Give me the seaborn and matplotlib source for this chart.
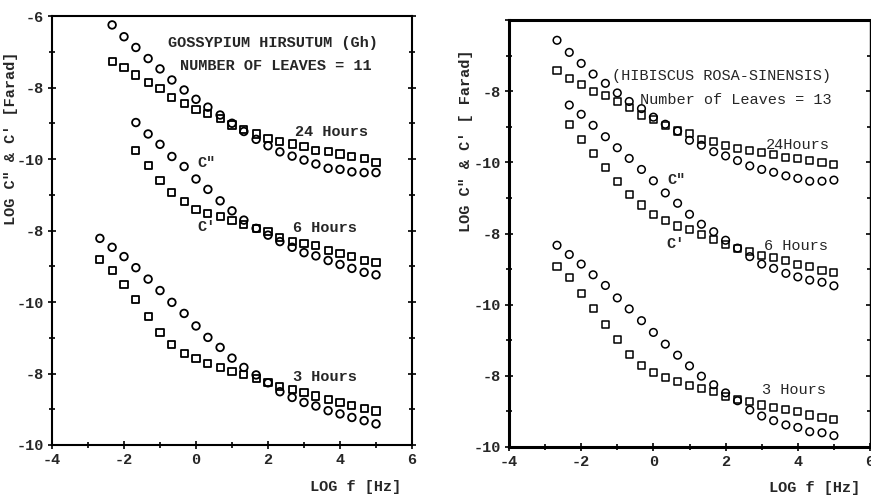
import matplotlib
matplotlib.use('Agg')
import matplotlib.pyplot as plt
import seaborn as sns
import pandas as pd
from matplotlib.ticker import MultipleLocator

# log f [Hz] grid of the measurements
LOGF = [-2.67, -2.33, -2.0, -1.67, -1.33, -1.0, -0.67, -0.33, 0.0, 0.33, 0.67, 1.0,
        1.33, 1.67, 2.0, 2.33, 2.67, 3.0, 3.33, 3.67, 4.0, 4.33, 4.67, 5.0]

# y in stacked plot units (0 = bottom frame, 2 units between labelled ticks)
# Gossypium hirsutum (left)
gh_24h_c2 = [11.75, 11.42, 11.12, 10.81, 10.52, 10.21, 9.93, 9.67, 9.45, 9.23, 9.00, 8.77,
             8.55, 8.37, 8.20, 8.08, 7.97, 7.86, 7.74, 7.71, 7.64, 7.62, 7.62]
gh_24h_c1 = [10.74, 10.55, 10.35, 10.15, 9.96, 9.71, 9.55, 9.39, 9.26, 9.14, 8.95, 8.83,
             8.70, 8.58, 8.50, 8.42, 8.34, 8.25, 8.20, 8.14, 8.06, 8.02, 7.90]
gh_6h_c2 = [9.02, 8.70, 8.41, 8.07, 7.79, 7.44, 7.15, 6.83, 6.55, 6.29, 6.06, 5.87,
            5.69, 5.53, 5.38, 5.29, 5.16, 5.05, 4.94, 4.83, 4.76]
gh_6h_c1 = [8.25, 7.81, 7.41, 7.06, 6.82, 6.60, 6.48, 6.39, 6.27, 6.18, 6.06, 5.97,
            5.81, 5.69, 5.64, 5.57, 5.45, 5.36, 5.27, 5.17, 5.11]
gh_3h_c2 = [5.78, 5.53, 5.27, 4.96, 4.64, 4.32, 3.99, 3.68, 3.33, 3.01, 2.73, 2.43,
            2.17, 1.96, 1.74, 1.49, 1.33, 1.19, 1.09, 0.96, 0.87, 0.77, 0.68, 0.59]
gh_3h_c1 = [5.20, 4.88, 4.48, 4.06, 3.59, 3.14, 2.80, 2.55, 2.41, 2.29, 2.16, 2.05,
            1.96, 1.87, 1.74, 1.63, 1.56, 1.46, 1.37, 1.28, 1.19, 1.10, 1.03, 0.95]

# Hibiscus rosa-sinensis (right)
hrs_24h_c2 = [11.43, 11.09, 10.78, 10.48, 10.22, 9.95, 9.71, 9.51, 9.27, 9.07, 8.88, 8.62,
              8.48, 8.30, 8.18, 8.05, 7.90, 7.80, 7.72, 7.62, 7.55, 7.47, 7.47, 7.50]
hrs_24h_c1 = [10.59, 10.36, 10.20, 10.00, 9.89, 9.70, 9.54, 9.33, 9.21, 9.04, 8.88, 8.81,
              8.64, 8.58, 8.48, 8.39, 8.32, 8.27, 8.22, 8.14, 8.11, 8.04, 8.00, 7.95]
hrs_6h_c2 = [9.61, 9.35, 9.04, 8.72, 8.41, 8.11, 7.80, 7.48, 7.14, 6.85, 6.54, 6.26,
             6.05, 5.81, 5.59, 5.35, 5.14, 5.02, 4.88, 4.78, 4.69, 4.63, 4.53]
hrs_6h_c1 = [9.07, 8.64, 8.25, 7.85, 7.47, 7.10, 6.80, 6.54, 6.36, 6.21, 6.10, 5.96,
             5.83, 5.70, 5.58, 5.49, 5.39, 5.33, 5.23, 5.14, 5.06, 4.97, 4.90]
hrs_3h_c2 = [5.67, 5.41, 5.14, 4.84, 4.54, 4.19, 3.88, 3.55, 3.22, 2.89, 2.58, 2.28,
             1.99, 1.75, 1.52, 1.30, 1.04, 0.87, 0.74, 0.62, 0.55, 0.43, 0.40, 0.32]
hrs_3h_c1 = [5.08, 4.76, 4.32, 3.88, 3.43, 3.01, 2.61, 2.30, 2.10, 1.96, 1.83, 1.74,
             1.65, 1.56, 1.43, 1.34, 1.27, 1.18, 1.12, 1.06, 0.99, 0.90, 0.83, 0.78]

x_ticklabels = ['-4', '-2', '0', '2', '4', '6']
gh_yticklabels = ['-10', '-8', '-10', '-8', '-10', '-8', '-6']
hrs_yticklabels = ['-10', '-8', '-10', '-8', '-10', '-8', '']

# put it all in one long table
rows = []
def add(panel, group, kind, ys):
    xs = LOGF[len(LOGF) - len(ys):]
    for x, y in zip(xs, ys):
        rows.append((panel, group, kind, x, y))

add('gh', '24', 'C"', gh_24h_c2); add('gh', '24', "C'", gh_24h_c1)
add('gh', '6', 'C"', gh_6h_c2); add('gh', '6', "C'", gh_6h_c1)
add('gh', '3', 'C"', gh_3h_c2); add('gh', '3', "C'", gh_3h_c1)
add('hrs', '24', 'C"', hrs_24h_c2); add('hrs', '24', "C'", hrs_24h_c1)
add('hrs', '6', 'C"', hrs_6h_c2); add('hrs', '6', "C'", hrs_6h_c1)
add('hrs', '3', 'C"', hrs_3h_c2); add('hrs', '3', "C'", hrs_3h_c1)
df = pd.DataFrame(rows, columns=['panel', 'group', 'kind', 'logf', 'y'])

sns.set_style('white')
plt.rcParams['font.family'] = ['Liberation Mono', 'DejaVu Sans Mono']
MONO = 'Liberation Mono'

fig = plt.figure(figsize=(8.71, 4.96), dpi=100)
ax1 = fig.add_axes([52 / 871, 1 - 445 / 496, 360 / 871, 429 / 496])
ax2 = fig.add_axes([509 / 871, 1 - 447 / 496, 361 / 871, 427 / 496])

for ax, panel, ylabs, lw in [(ax1, 'gh', gh_yticklabels, 1.3), (ax2, 'hrs', hrs_yticklabels, 1.1)]:
    sub = df[df.panel == panel]
    c2 = sub[sub.kind == 'C"']
    c1 = sub[sub.kind == "C'"]
    sns.scatterplot(data=c2, x='logf', y='y', ax=ax, marker='o', s=30, color='black',
                    edgecolor='black', linewidth=lw, legend=False)
    ax.collections[-1].set_facecolor('none')
    sns.scatterplot(data=c1, x='logf', y='y', ax=ax, marker='s', s=26, color='black',
                    edgecolor='black', linewidth=lw, legend=False)
    ax.collections[-1].set_facecolor('none')

    ax.set_xlim(-4, 6)
    ax.set_ylim(0, 12)
    ax.set_xticks(range(-4, 7, 2))
    ax.set_xticklabels(x_ticklabels)
    ax.set_yticks(range(0, 13, 2))
    ax.set_yticklabels(ylabs)
    ax.xaxis.set_minor_locator(MultipleLocator(1))
    ax.yaxis.set_minor_locator(MultipleLocator(1))
    ax.tick_params(which='both', direction='inout', color='black', width=1.2,
                   left=True, bottom=True, right=True, top=False, labelsize=11, pad=3)
    ax.tick_params(which='major', length=6)
    ax.tick_params(which='minor', length=4)
    for lab in ax.get_xticklabels() + ax.get_yticklabels():
        lab.set_fontweight('bold')
        lab.set_family(MONO)
    ax.set_xlabel('')
    ax.set_ylabel('')
    ax.set_facecolor('white')

for sp in ax1.spines.values():
    sp.set_color('black')
    sp.set_linewidth(1.5)
for name, sp in ax2.spines.items():
    sp.set_color('black')
    sp.set_linewidth(1.0 if name == 'right' else 2.2)

bold = dict(family=MONO, fontweight='bold', fontsize=11)
reg = dict(family=MONO, fontsize=11)

# left panel annotations
ax1.text(-0.78, 11.24, 'GOSSYPIUM HIRSUTUM (Gh)', va='center', **bold)
ax1.text(-0.44, 10.60, 'NUMBER OF LEAVES = 11', va='center', **bold)
ax1.text(2.75, 8.76, '24 Hours', va='center', **bold)
ax1.text(0.03, 7.89, 'C"', va='center', **bold)
ax1.text(2.69, 6.07, '6 Hours', va='center', **bold)
ax1.text(0.03, 6.10, "C'", va='center', **bold)
ax1.text(2.69, 1.90, '3 Hours', va='center', **bold)

# right panel annotations
ax2.text(-1.14, 10.42, '(HIBISCUS ROSA-SINENSIS)', va='center', **reg)
ax2.text(-0.37, 9.75, 'Number of Leaves = 13', va='center', **reg)
ax2.text(3.11, 8.48, '24Hours', va='center', **reg)
ax2.text(0.38, 7.50, 'C"', va='center', **bold)
ax2.text(0.35, 5.70, "C'", va='center', **bold)
ax2.text(3.05, 5.65, '6 Hours', va='center', **reg)
ax2.text(3.00, 1.60, '3 Hours', va='center', **reg)

fig.text(11 / 871, 1 - 138 / 496, 'LOG C" & C\' [Farad]', rotation=90,
         ha='center', va='center', **bold)
fig.text(466 / 871, 1 - 141 / 496, 'LOG C" & C\' [ Farad]', rotation=90,
         ha='center', va='center', **bold)
fig.text(356 / 871, 1 - 487 / 496, 'LOG f [Hz]', ha='center', va='center', **bold)
fig.text(815 / 871, 1 - 488 / 496, 'LOG f [Hz]', ha='center', va='center', **bold)

fig.savefig('out.png', dpi=100, facecolor='white')
